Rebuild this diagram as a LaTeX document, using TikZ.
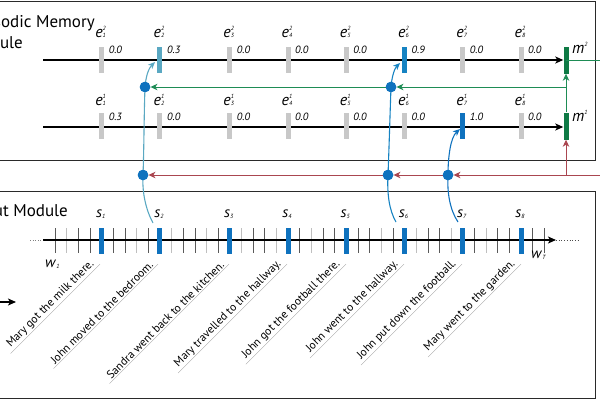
\documentclass[tikz,border=0pt]{standalone}
\usepackage{fontspec}
\setmainfont{PT Sans}
\usetikzlibrary{arrows.meta}
\definecolor{barg}{HTML}{C8C8C8}
\definecolor{lblue}{HTML}{5AA8C2}
\definecolor{mblue}{HTML}{1683C2}
\definecolor{dblue}{HTML}{0F72BE}
\definecolor{mgreen}{HTML}{0E7A45}
\definecolor{lgreen}{HTML}{1E8C55}
\definecolor{mred}{HTML}{AA4650}
\definecolor{boxc}{HTML}{2A2A2A}
\newcommand{\scr}{\fontsize{6}{6}\selectfont\itshape}
\newcommand{\esym}[3]{\textit{#1}\makebox[0pt][l]{\raisebox{6.5pt}{\scr #2}}\raisebox{0pt}{\scr #3}}
\newcommand{\ssym}[2]{\textit{#1}\raisebox{-1pt}{\scr #2}}
\tikzset{
  ebar/.style={fill=barg, draw=none, minimum width=5pt, minimum height=26pt, inner sep=0pt},
  mbar/.style={fill=mgreen, draw=none, minimum width=5pt, minimum height=27pt, inner sep=0pt},
  sbar/.style={fill=dblue, draw=none, minimum width=5pt, minimum height=26pt, inner sep=0pt},
  dot/.style={circle, fill=dblue, draw=none, minimum size=10.5pt, inner sep=0pt},
  elab/.style={font=\fontsize{16}{17}\selectfont, inner sep=0pt, anchor=base},
  vlab/.style={font=\fontsize{10.5}{11}\selectfont\itshape, inner sep=0pt, anchor=base west},
  slab/.style={font=\fontsize{15}{16}\selectfont, inner sep=0pt, anchor=base},
  title/.style={font=\fontsize{17}{18}\selectfont, inner sep=0pt, anchor=base east},
  sent/.style={font=\fontsize{11.5}{12}\selectfont, rotate=45, anchor=south east, inner xsep=4pt, inner ysep=1.2pt},
  uline/.style={draw=gray!70, line width=0.35pt},
  mainline/.style={line width=1.3pt, -{Stealth[length=8pt,width=7pt,inset=2pt]}},
  garr/.style={lgreen, line width=1pt, -{Stealth[length=7pt,width=6.5pt,inset=2pt]}},
  rarr/.style={mred, line width=1pt, -{Stealth[length=7pt,width=6.5pt,inset=2pt]}},
  carr/.style={line width=1.1pt, -{Stealth[length=7pt,width=6pt,inset=2pt]}},
}
\begin{document}
\begin{tikzpicture}[x=1pt,y=-1pt]
\useasboundingbox (0,0) rectangle (600,400);
% boxes
\draw[boxc, line width=1pt] (-10,1) rectangle (595,160);
\draw[boxc, line width=1pt] (-10,191) rectangle (595,398);
% titles
\node[title] (t1a) at (95,27) {Episodic Memory};
\node[title] (t1b) at (23,48) {Module};
\node[title] (t2a) at (68,216) {Input Module};
% memory layers
\node[mbar] (m2) at (566,60) {};
\node[mbar] (m1) at (566,126) {};
\coordinate (l2s) at (43,60);
\coordinate (l1s) at (43,127);
\draw[mainline] (l2s) -- (m2.west |- l2s);
\draw[mainline] (l1s) -- (m1.west |- l1s);
\node[elab, anchor=base west] (m2l) at (572,53) {\esym{m}{2}{}};
\node[elab, anchor=base west] (m1l) at (572,121) {\esym{m}{1}{}};
% e bars
\foreach \i/\x/\v/\c in {1/101.6/0.0/barg, 2/159.9/0.3/lblue, 3/229.75/0.0/barg, 4/288/0.0/barg, 5/346.25/0.0/barg, 6/404.5/0.9/mblue, 7/462.75/0.0/barg, 8/521/0.0/barg}{
  \node[ebar, fill=\c] (eb2\i) at (\x,60) {};
  \node[elab] (el2\i) at (\x-1,37) {\esym{e}{2}{\i}};
  \node[vlab] (ev2\i) at (\x+7,53) {\v};
}
\foreach \i/\x/\v/\c in {1/101.6/0.3/barg, 2/159.9/0.0/barg, 3/229.75/0.0/barg, 4/288/0.0/barg, 5/346.25/0.0/barg, 6/404.5/0.0/barg, 7/462.75/1.0/dblue, 8/521/0.0/barg}{
  \node[ebar, fill=\c] (eb1\i) at (\x,126) {};
  \node[elab] (el1\i) at (\x-1,105) {\esym{e}{1}{\i}};
  \node[vlab] (ev1\i) at (\x+7,120) {\v};
}
% dots
\node[dot] (dA2) at (145,87) {};
\node[dot] (dA6) at (391,87) {};
\node[dot] (dB2) at (143,175) {};
\node[dot] (dB6) at (388,175) {};
\node[dot] (dB7) at (448,175) {};
% green connectors
\coordinate (gj) at (566,87);
\coordinate (gr) at (600,60);
\draw[lgreen, line width=1pt] (566,60) -- (gr);
\draw[garr] (m1.north) -- (m2.south);
\draw[garr] (gj) -- (dA6.east);
\draw[garr] (dA6.west) -- (dA2.east);
% red connectors
\coordinate (rs) at (600,175);
\coordinate (rj) at (566,175);
\draw[rarr] (rs) -- (dB7.east);
\draw[rarr] (dB7.west) -- (dB6.east);
\draw[rarr] (dB6.west) -- (dB2.east);
\draw[rarr] (rj) -- (m1.south);
% timeline
\coordinate (ts) at (43,240);
\coordinate (te) at (556,240);
\coordinate (tl) at (30,240);
\coordinate (tr) at (578,240);
\foreach \k in {0,...,42}{
  \pgfmathsetmacro{\tx}{55+11.65*\k}
  \pgfmathtruncatemacro{\km}{mod(\k,3)}
  \ifnum\km=1 \draw[gray!50, line width=0.6pt] (\tx,228) -- (\tx,253);
  \else \draw[black!65, line width=0.55pt] (\tx,228) -- (\tx,253); \fi
}
\draw[mainline] (ts) -- (te);
\draw[gray, line width=0.6pt, dotted] (tl) -- (ts);
\draw[black!70, line width=0.7pt, dotted] (te) -- (tr);
\foreach \i/\x in {1/101.6, 2/159.9, 3/229.75, 4/288, 5/346.25, 6/404.5, 7/462.75, 8/521}{
  \node[sbar] (s\i) at (\x,240.5) {};
  \node[slab] (sl\i) at (\x-1,217) {\ssym{s}{\i}};
}
\node[slab, anchor=base west] (w1) at (45,267) {\ssym{w}{1}};
\node[slab, anchor=base west] (wT) at (531,258) {\ssym{w}{T}};
% curves
\coordinate (c2s) at (153,223);
\coordinate (c2e) at (155,62);
\coordinate (c6s) at (396,222);
\coordinate (c6e) at (400,63);
\coordinate (c7s) at (458,222);
\coordinate (c7e) at (460,129);
\draw[carr, lblue] (c2s) .. controls (146,210) and (142,193) .. (dB2.center) .. controls (144,150) and (144,115) .. (dA2.center) .. controls (146,75) and (149,68) .. (c2e);
\draw[carr, mblue] (c6s) .. controls (389,210) and (387,193) .. (dB6.center) .. controls (389,150) and (390,115) .. (dA6.center) .. controls (392,75) and (395,68) .. (c6e);
\draw[carr, dblue] (c7s) .. controls (450,210) and (447,193) .. (dB7.center) .. controls (448,155) and (451,137) .. (c7e);
\node[dot] at (dA2) {};
\node[dot] at (dA6) {};
\node[dot] at (dB2) {};
\node[dot] at (dB6) {};
\node[dot] at (dB7) {};
% sentences
\foreach \i/\x/\t in {1/100/{Mary got the milk there.}, 2/158/{John moved to the bedroom.}, 3/229/{Sandra went back to the kitchen.}, 4/287/{Mary travelled to the hallway.}, 5/346/{John got the football there.}, 6/404/{John went to the hallway.}, 7/462/{John put down the football.}, 8/521/{Mary went to the garden.}}{
  \node[sent] (q\i) at (\x,264) {\t};
  \draw[uline] (q\i.south west) -- (q\i.south east);
}
% legend arrow
\coordinate (la) at (-5,302);
\coordinate (lb) at (16,302);
\draw[mainline] (la) -- (lb);
\end{tikzpicture}
\end{document}
